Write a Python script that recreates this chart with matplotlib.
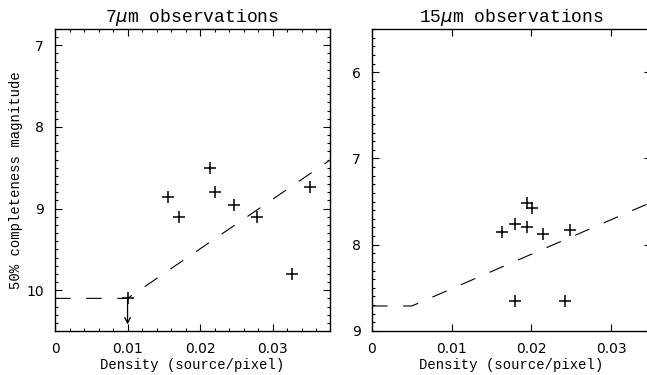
import numpy as np
import matplotlib.pyplot as plt
from matplotlib.ticker import MultipleLocator, FixedLocator

# 7 micron panel
dens7 = [0.0100, 0.0156, 0.0171, 0.0213, 0.0221, 0.0247, 0.0278, 0.0326, 0.0352]
mag7 = [10.09, 8.86, 9.10, 8.50, 8.80, 8.96, 9.10, 9.80, 8.73]
fit7_x = [0.0, 0.0100, 0.0380]
fit7_y = [10.10, 10.10, 8.40]
limit7 = (0.0100, 10.09, 10.42)  # x, y from, y to (upper limit arrow)

# 15 micron panel
dens15 = [0.0163, 0.0180, 0.0195, 0.0201, 0.0195, 0.0214, 0.0248, 0.0180, 0.0242]
mag15 = [7.85, 7.76, 7.52, 7.57, 7.80, 7.88, 7.83, 8.65, 8.65]
fit15_x = [0.0, 0.0050, 0.0350]
fit15_y = [8.71, 8.71, 7.51]

xticks = [0, 0.01, 0.02, 0.03]
xticklabels = ["0", "0.01", "0.02", "0.03"]

plt.rcParams["font.family"] = "DejaVu Sans"

W, H = 647, 375
fig = plt.figure(figsize=(W / 100, H / 100), dpi=100)

label_font = dict(family="Liberation Mono", size=10)
title_font = dict(family="Liberation Mono", size=13)

ax1 = fig.add_axes([55 / W, 44 / H, 275 / W, 302 / H])
ax2 = fig.add_axes([372 / W, 44 / H, 279 / W, 302 / H])

for ax in (ax1, ax2):
    ax.tick_params(which="both", direction="in", top=True, right=True,
                   labelsize=10, width=0.8, pad=8)
    ax.tick_params(which="major", length=5)
    ax.tick_params(which="minor", length=2.5)
    for s in ax.spines.values():
        s.set_linewidth(1.0)
    ax.set_xlabel("Density (source/pixel)", labelpad=1, **label_font)
    ax.xaxis.set_major_locator(FixedLocator(xticks))
    ax.set_xticklabels(xticklabels)

# left
ax1.plot(fit7_x, fit7_y, color="black", lw=0.8, dashes=(14, 14))
ax1.plot(dens7, mag7, "+", color="black", ms=9, mew=1.1)
ax1.annotate("", xy=(limit7[0], limit7[2]), xytext=(limit7[0], limit7[1]),
             arrowprops=dict(arrowstyle="->", color="black", lw=0.9,
                             shrinkA=0, shrinkB=0))
ax1.set_xlim(0, 0.0379)
ax1.set_ylim(10.5, 6.8)
ax1.xaxis.set_minor_locator(MultipleLocator(0.002))
ax1.yaxis.set_major_locator(FixedLocator([7, 8, 9, 10]))
ax1.set_yticklabels(["7", "8", "9", "10"])
ax1.yaxis.set_minor_locator(MultipleLocator(0.1))
ax1.set_ylabel("50% completeness magnitude", labelpad=2, **label_font)
ax1.set_title(r"7$\mu$m observations", pad=5, **title_font)

# right
ax2.plot(fit15_x, fit15_y, color="black", lw=0.8, dashes=(14, 14))
ax2.plot(dens15, mag15, "+", color="black", ms=9, mew=1.1)
ax2.set_xlim(0, 0.0350)
ax2.set_ylim(9.0, 5.5)
ax2.yaxis.set_major_locator(FixedLocator([6, 7, 8, 9]))
ax2.set_yticklabels(["6", "7", "8", "9"])
ax2.yaxis.set_minor_locator(MultipleLocator(0.1))
ax2.set_title(r"15$\mu$m observations", pad=5, **title_font)

fig.savefig("out.png", dpi=100)
